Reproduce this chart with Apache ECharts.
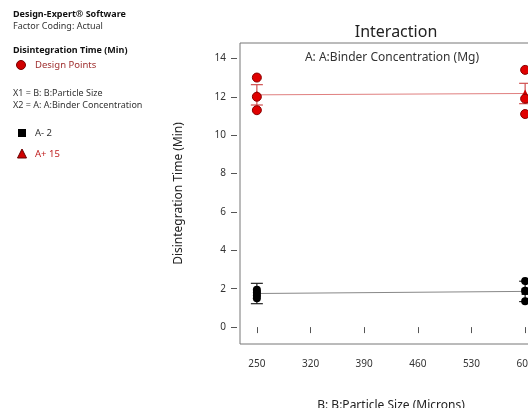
<!DOCTYPE html>
<html><head><meta charset="utf-8">
<script src="https://cdn.jsdelivr.net/npm/echarts@6/dist/echarts.min.js"></script>
<style>html,body{margin:0;padding:0;background:#fff}#c{width:528px;height:408px}</style>
</head><body><div id="c"></div>
<script>
// Data
const xLevels = [250, 600];
const xTicks = [250, 320, 390, 460, 530, 600];
const yTicks = [0, 2, 4, 6, 8, 10, 12, 14];
const meanHigh = [12.1, 12.17];      // A+ 15
const meanLow = [1.75, 1.86];        // A- 2
const errHighLo = [11.57, 11.64];
const errHighHi = [12.63, 12.70];
const errLowLo = [1.22, 1.33];
const errLowHi = [2.28, 2.39];
const ptsHighX = [250, 250, 250, 600, 600, 600];
const ptsHighY = [13.0, 12.0, 11.3, 13.4, 11.9, 11.1];
const ptsLowX = [250, 250, 250, 250, 600, 600, 600];
const ptsLowY = [1.95, 1.8, 1.65, 1.5, 2.4, 1.9, 1.35];

const FONT = '"Noto Sans", "Open Sans", sans-serif';
const zip = (a, b) => a.map((v, i) => [v, b[i]]);
const errData = (lo, hi) => xLevels.map((x, i) => [x, lo[i], hi[i]]);

function errRender(color) {
  return function (params, api) {
    const x = api.value(0), lo = api.value(1), hi = api.value(2);
    const a = api.coord([x, lo]), b = api.coord([x, hi]);
    const w = 6;
    const st = { stroke: color, lineWidth: 1.2 };
    return { type: 'group', children: [
      { type: 'line', shape: { x1: a[0], y1: a[1], x2: b[0], y2: b[1] }, style: st },
      { type: 'line', shape: { x1: a[0] - w, y1: a[1], x2: a[0] + w, y2: a[1] }, style: st },
      { type: 'line', shape: { x1: b[0] - w, y1: b[1], x2: b[0] + w, y2: b[1] }, style: st }
    ]};
  };
}

const chart = echarts.init(document.getElementById('c'), null, { renderer: 'canvas' });
const txt = (x, y, text, fill, font) => ({
  type: 'text', x, y,
  style: { text, fill, font: font + ' ' + FONT, verticalAlign: 'middle', align: 'left' }
});
chart.setOption({
  animation: false,
  backgroundColor: '#fff',
  textStyle: { fontFamily: FONT },
  title: [
    { text: 'Interaction', left: 391, top: 19, textAlign: 'center',
      textStyle: { fontSize: 16, fontWeight: 'normal', color: '#222', fontFamily: FONT } },
    { text: 'A: A:Binder Concentration (Mg)', left: 387, top: 47, textAlign: 'center',
      textStyle: { fontSize: 12, fontWeight: 'normal', color: '#333', fontFamily: FONT } }
  ],
  graphic: [
    txt(13, 14, 'Design-Expert® Software', '#111', 'bold 9px'),
    txt(13, 26.5, 'Factor Coding: Actual', '#333', '9px'),
    txt(13, 50, 'Disintegration Time (Min)', '#111', 'bold 9px'),
    { type: 'circle', shape: { cx: 21, cy: 65, r: 4.5 }, style: { fill: '#d00000', stroke: '#700', lineWidth: 1 } },
    txt(35, 65, 'Design Points', '#a03030', '9.5px'),
    txt(13, 93, 'X1 = B: B:Particle Size', '#333', '9px'),
    txt(13, 105.5, 'X2 = A: A:Binder Concentration', '#333', '9px'),
    { type: 'rect', shape: { x: 18, y: 129, width: 8, height: 8 }, style: { fill: '#000' } },
    txt(35, 133, 'A- 2', '#333', '9.5px'),
    { type: 'polygon', shape: { points: [[22, 149], [17.5, 158], [26.5, 158]] }, style: { fill: '#d00000', stroke: '#600', lineWidth: 1 } },
    txt(35, 154, 'A+ 15', '#c02020', '9.5px')
  ],
  grid: { left: 240, top: 43, right: -14, bottom: 64, containLabel: false, outerBoundsMode: 'none',
    show: true, borderColor: '#777', borderWidth: 1 },
  xAxis: {
    type: 'value', min: 228, max: 622, offset: 3,
    name: 'B: B:Particle Size (Microns)', nameLocation: 'middle', nameGap: 53,
    nameTextStyle: { fontSize: 12, color: '#222', fontFamily: FONT },
    axisLine: { show: false },
    axisTick: { show: true, length: 6, customValues: xTicks, lineStyle: { color: '#555' } },
    axisLabel: { customValues: xTicks, margin: 12, fontSize: 10, color: '#333', fontFamily: FONT },
    splitLine: { show: false }
  },
  yAxis: {
    type: 'value', min: -0.88, max: 14.8, offset: 3,
    name: 'Disintegration Time (Min)', nameLocation: 'middle', nameGap: 52,
    nameTextStyle: { fontSize: 12, color: '#222', fontFamily: FONT },
    axisLine: { show: false },
    axisTick: { show: true, length: 6, customValues: yTicks, lineStyle: { color: '#555' } },
    axisLabel: { customValues: yTicks, margin: 11, fontSize: 10, color: '#333', fontFamily: FONT },
    splitLine: { show: false }
  },
  series: [
    { type: 'custom', name: 'errLow', renderItem: errRender('#222'), encode: { x: 0, y: [1, 2] },
      data: errData(errLowLo, errLowHi), z: 2 },
    { type: 'custom', name: 'errHigh', renderItem: errRender('#d05050'), encode: { x: 0, y: [1, 2] },
      data: errData(errHighLo, errHighHi), z: 2 },
    { type: 'line', name: 'A- 2', data: zip(xLevels, meanLow), symbol: 'rect', symbolSize: 7,
      lineStyle: { color: '#888', width: 1 }, itemStyle: { color: '#000' }, z: 3 },
    { type: 'line', name: 'A+ 15', data: zip(xLevels, meanHigh), symbol: 'triangle', symbolSize: 8,
      lineStyle: { color: '#e08080', width: 1 }, itemStyle: { color: '#d00000' }, z: 3 },
    { type: 'scatter', name: 'pts low', data: zip(ptsLowX, ptsLowY), symbolSize: 8,
      itemStyle: { color: '#000', opacity: 1 }, z: 4 },
    { type: 'scatter', name: 'pts high', data: zip(ptsHighX, ptsHighY), symbolSize: 9,
      itemStyle: { color: '#e00000', borderColor: '#800', borderWidth: 1, opacity: 1 }, z: 4 }
  ]
});
</script></body></html>
